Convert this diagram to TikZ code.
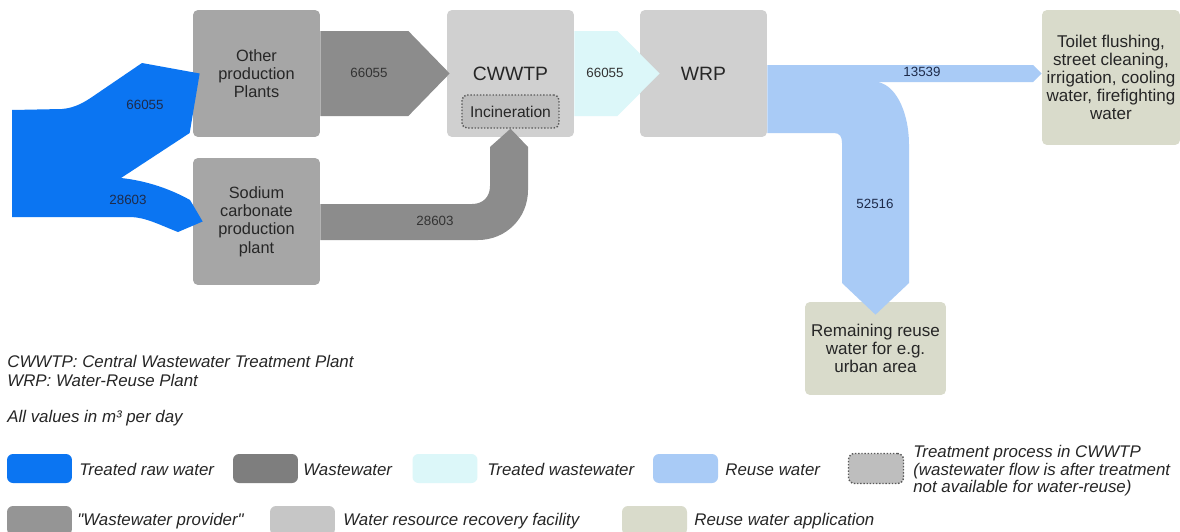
\documentclass[tikz,border=0pt]{standalone}
\usepackage{fontspec}
\setmainfont{Liberation Sans}
\usetikzlibrary{calc}
\definecolor{RawBlue}{HTML}{0B75F2}
\definecolor{WasteGray}{HTML}{8C8C8C}
\definecolor{ProviderGray}{HTML}{A6A6A6}
\definecolor{FacilityGray}{HTML}{D0D0D0}
\definecolor{TreatedCyan}{HTML}{DCF7F9}
\definecolor{ReuseBlue}{HTML}{A9CBF6}
\definecolor{ApplyBeige}{HTML}{D9DBCB}
\definecolor{IncinGray}{HTML}{BEBEBE}
\definecolor{LabelNavy}{HTML}{1E2B4A}

\begin{document}
\begin{tikzpicture}[x=0.02cm,y=-0.02cm,
    boxtext/.style={inner sep=0pt, align=center, text=black!85, font=\fontsize{9.3}{10.4}\selectfont},
    provider/.style={boxtext, rounded corners=0.1cm, fill=ProviderGray, minimum width=2.54cm, minimum height=2.54cm},
    facility/.style={boxtext, rounded corners=0.1cm, fill=FacilityGray, minimum width=2.54cm, minimum height=2.54cm, font=\fontsize{11}{13}\selectfont},
    application/.style={boxtext, rounded corners=0.1cm, fill=ApplyBeige, font=\fontsize{9.7}{10.3}\selectfont},
    incin/.style={boxtext, rounded corners=0.1cm, fill=IncinGray, draw=black!65, densely dotted, line width=0.8pt, minimum width=1.94cm, minimum height=0.66cm, font=\fontsize{8.9}{10}\selectfont},
    flowlabel/.style={inner sep=0pt, text=black!80, font=\fontsize{7.6}{9}\selectfont},
    bluelabel/.style={flowlabel, text=LabelNavy},
    swatch/.style={rounded corners=0.12cm, minimum width=1.3cm, minimum height=0.58cm, inner sep=0pt},
    legendtext/.style={inner sep=0pt, anchor=base west, text=black!85, font=\fontsize{9.6}{10}\selectfont\itshape, align=left}]

    \useasboundingbox (0,0) rectangle (1180,531);
    \fill[white] (0,0) rectangle (1180,531);

    \node[provider] (other) at (256.5,73.5) {Other\\production\\Plants};
    \node[provider] (soda) at (256.5,221.5) {Sodium\\carbonate\\production\\plant};
    \node[facility] (cwwtp) at (510.5,73.5) {CWWTP};
    \node[incin] (incin) at (510.5,111.5) {Incineration};
    \node[facility] (wrp) at (703.5,73.5) {WRP};
    \node[application, minimum width=2.76cm, minimum height=2.7cm] (toilet) at (1111,77.5)
        {Toilet flushing,\\street cleaning,\\irrigation, cooling\\water, firefighting\\water};
    \node[application, minimum width=2.82cm, minimum height=1.86cm] (remain) at (875.5,348.5)
        {Remaining reuse\\water for e.g.\\urban area};

    \fill[RawBlue] (12,110) -- (62,109) .. controls (75,108) and (85,102) .. (95,95) -- (142,63)
        -- ($(other.west)+(7,0)$) -- ($(other.west)+(-3,59.5)$) -- (121,178)
        .. controls (140,180) and (165,186) .. (190,200) -- ($(soda.west)+(10,0)$) -- (178,232)
        .. controls (160,225) and (145,217) .. (130,217) -- (12,217) -- cycle;

    \fill[WasteGray] ($(other.east)+(0,-42.5)$) -- ($(other.east)+(88,-42.5)$) -- ($(cwwtp.west)+(3,0)$)
        -- ($(other.east)+(88,42.5)$) -- ($(other.east)+(0,42.5)$) -- cycle;

    \fill[WasteGray] ($(soda.east)+(0,-17.5)$) -- (472,204) .. controls (483,204) and (490,197) .. (490,186)
        -- (490,147) -- (incin.south) -- (528,147) -- (528,190)
        .. controls (528,218) and (506,240) .. (478,240) -- ($(soda.east)+(0,18.5)$) -- cycle;

    \fill[TreatedCyan] ($(cwwtp.east)+(0,-42.5)$) -- ($(cwwtp.east)+(43,-42.5)$) -- ($(wrp.west)+(20,0)$)
        -- ($(cwwtp.east)+(43,42.5)$) -- ($(cwwtp.east)+(0,42.5)$) -- cycle;

    \fill[ReuseBlue] ($(wrp.east)+(0,-8.5)$) -- (1033,65) -- (toilet.west |- wrp.east) -- (1033,82)
        -- (875,82) .. controls (894,82) and (909,110) .. (909,145) -- (909,283)
        -- ($(remain.north)+(0,13)$) -- (842,283) -- (842,143)
        .. controls (842,137) and (840,133) .. (834,133) -- ($(wrp.east)+(0,59.5)$) -- cycle;

    \node[bluelabel] (rawtop) at (145,105) {66055};
    \node[bluelabel] (rawlow) at (128,200) {28603};
    \node[flowlabel] (wastetop) at (369,73) {66055};
    \node[flowlabel] (wastelow) at (435,221) {28603};
    \node[flowlabel] (treated) at (605,73) {66055};
    \node[bluelabel] (reusetop) at (922,72) {13539};
    \node[bluelabel] (reuselow) at (875,204) {52516};

    \node[legendtext] (abbrA) at (7,367) {CWWTP: Central Wastewater Treatment Plant};
    \node[legendtext] (abbrB) at (7,386) {WRP: Water-Reuse Plant};
    \node[legendtext] (units) at (7,422) {All values in m³ per day};

    \node[swatch, fill=RawBlue] (keyraw) at (39.5,468.5) {};
    \node[legendtext] at (79,475) {Treated raw water};
    \node[swatch, fill=WasteGray!90!black] (keywaste) at (265.5,468.5) {};
    \node[legendtext] at (303,475) {Wastewater};
    \node[swatch, fill=TreatedCyan] (keytreated) at (445,468.5) {};
    \node[legendtext] at (487,475) {Treated wastewater};
    \node[swatch, fill=ReuseBlue] (keyreuse) at (685.5,468.5) {};
    \node[legendtext] at (725,475) {Reuse water};
    \node[swatch, fill=IncinGray, draw=black!65, densely dotted, line width=0.8pt, minimum width=1.1cm, minimum height=0.6cm] (keyincin) at (876,468.5) {};
    \node[legendtext, anchor=west] at (913,471) {Treatment process in CWWTP\\(wastewater flow is after treatment\\not available for water-reuse)};

    \node[swatch, fill=ProviderGray!90!black] (keyprovider) at (39.5,520.5) {};
    \node[legendtext] at (77,525) {\textquotedbl Wastewater provider\textquotedbl};
    \node[swatch, fill=FacilityGray!95!black] (keyfacility) at (302.5,520.5) {};
    \node[legendtext] at (343,525) {Water resource recovery facility};
    \node[swatch, fill=ApplyBeige] (keyapply) at (654.5,520.5) {};
    \node[legendtext] at (694,525) {Reuse water application};
\end{tikzpicture}
\end{document}
